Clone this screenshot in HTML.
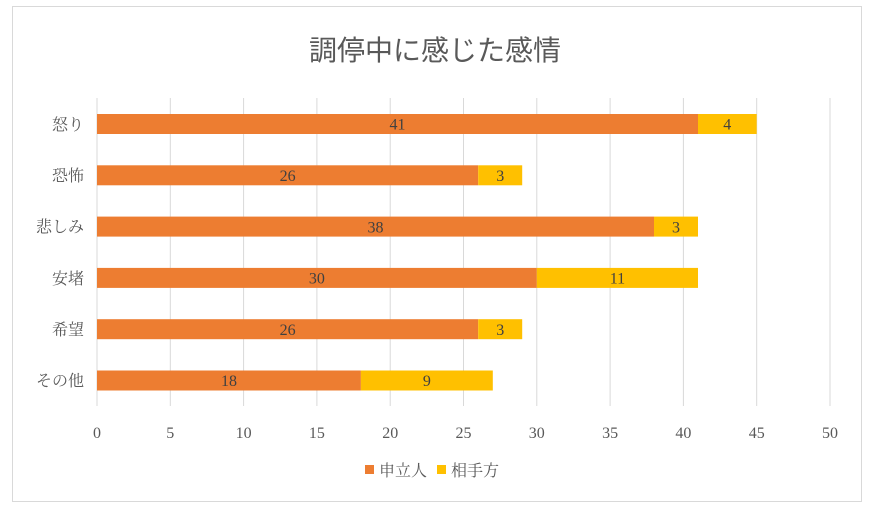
<!DOCTYPE html>
<html><head><meta charset="utf-8"><style>
body{margin:0;background:#fff;width:869px;height:511px;overflow:hidden}
text{font-family:"Liberation Serif","Noto Serif CJK JP","Noto Serif CJK SC",serif;fill:#595959}
</style></head><body>
<svg width="869" height="511" viewBox="0 0 869 511" xmlns="http://www.w3.org/2000/svg">
<rect x="12.5" y="6.5" width="849" height="495" fill="#fff" stroke="#d9d9d9"/>
<text x="435" y="60" text-anchor="middle" font-size="28" style="font-family:'Liberation Sans','Noto Sans CJK JP',sans-serif;fill:#595959">調停中に感じた感情</text>
<g stroke="#d9d9d9" stroke-width="1">
<line x1="97" y1="98" x2="97" y2="406"/><line x1="170.3" y1="98" x2="170.3" y2="406"/><line x1="243.6" y1="98" x2="243.6" y2="406"/><line x1="316.9" y1="98" x2="316.9" y2="406"/><line x1="390.2" y1="98" x2="390.2" y2="406"/><line x1="463.5" y1="98" x2="463.5" y2="406"/><line x1="536.8" y1="98" x2="536.8" y2="406"/><line x1="610.1" y1="98" x2="610.1" y2="406"/><line x1="683.4" y1="98" x2="683.4" y2="406"/><line x1="756.7" y1="98" x2="756.7" y2="406"/><line x1="830" y1="98" x2="830" y2="406"/>
</g>
<g font-size="16" text-anchor="middle">
<text x="97" y="438">0</text><text x="170.3" y="438">5</text><text x="243.6" y="438">10</text><text x="316.9" y="438">15</text><text x="390.2" y="438">20</text><text x="463.5" y="438">25</text><text x="536.8" y="438">30</text><text x="610.1" y="438">35</text><text x="683.4" y="438">40</text><text x="756.7" y="438">45</text><text x="830" y="438">50</text>
</g>
<g font-size="16" text-anchor="end">
<text x="84" y="130">怒り</text><text x="84" y="181">恐怖</text><text x="84" y="232">悲しみ</text><text x="84" y="284">安堵</text><text x="84" y="335">希望</text><text x="84" y="386">その他</text>
</g>
<g>
<rect x="97" y="114" width="601" height="20" fill="#ed7d31"/><rect x="698" y="114" width="58.7" height="20" fill="#ffc000"/>
<rect x="97" y="165.3" width="381.2" height="20" fill="#ed7d31"/><rect x="478.2" y="165.3" width="44" height="20" fill="#ffc000"/>
<rect x="97" y="216.6" width="557" height="20" fill="#ed7d31"/><rect x="654" y="216.6" width="44" height="20" fill="#ffc000"/>
<rect x="97" y="267.9" width="439.8" height="20" fill="#ed7d31"/><rect x="536.8" y="267.9" width="161.2" height="20" fill="#ffc000"/>
<rect x="97" y="319.2" width="381.2" height="20" fill="#ed7d31"/><rect x="478.2" y="319.2" width="44" height="20" fill="#ffc000"/>
<rect x="97" y="370.5" width="263.9" height="20" fill="#ed7d31"/><rect x="360.9" y="370.5" width="131.9" height="20" fill="#ffc000"/>
</g>
<g font-size="16" text-anchor="middle">
<text x="397.5" y="129.5" style="fill:#404040">41</text><text x="727.3" y="129.5" style="fill:#404040">4</text>
<text x="287.6" y="181" style="fill:#404040">26</text><text x="500.2" y="181" style="fill:#404040">3</text>
<text x="375.5" y="232.3" style="fill:#404040">38</text><text x="676" y="232.3" style="fill:#404040">3</text>
<text x="316.9" y="283.6" style="fill:#404040">30</text><text x="617.4" y="283.6" style="fill:#404040">11</text>
<text x="287.6" y="334.9" style="fill:#404040">26</text><text x="500.2" y="334.9" style="fill:#404040">3</text>
<text x="229" y="386.2" style="fill:#404040">18</text><text x="426.9" y="386.2" style="fill:#404040">9</text>
</g>
<rect x="365" y="465" width="9" height="9" fill="#ed7d31"/>
<text x="379" y="476" font-size="16">申立人</text>
<rect x="437" y="465" width="9" height="9" fill="#ffc000"/>
<text x="451" y="476" font-size="16">相手方</text>
</svg>
</body></html>
